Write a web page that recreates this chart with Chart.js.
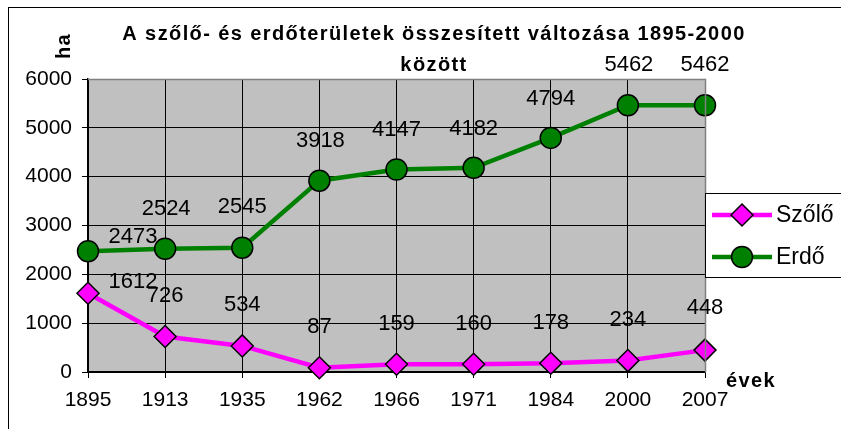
<!DOCTYPE html>
<html>
<head>
<meta charset="utf-8">
<script src="https://cdn.jsdelivr.net/npm/chart.js@4/dist/chart.umd.min.js"></script>
<style>
  body { margin: 0; background: #ffffff; }
</style>
</head>
<body>
<canvas id="chart" width="841" height="429"></canvas>
<script>
// data
const years = ["1895", "1913", "1935", "1962", "1966", "1971", "1984", "2000", "2007"];
const szoloValues = [1612, 726, 534, 87, 159, 160, 178, 234, 448];
const erdoValues = [2473, 2524, 2545, 3918, 4147, 4182, 4794, 5462, 5462];
const yTicks = [0, 1000, 2000, 3000, 4000, 5000, 6000];

// where each value label sits relative to its point (two of them were moved by hand in the original)
const szoloLabelDx = [45, 0, 0, 0, 0, 0, 0, 0, 0];
const szoloLabelDy = [-11, -41, -41, -41, -40, -40, -40, -41, -42];
const erdoLabelDx = [45, 1, 0, 1, 0, 0, 0, 1, 0];
const erdoLabelDy = [-14, -40, -41, -40, -40, -39, -39, -40, -40];

const FONT = "'Liberation Sans', Arial, sans-serif";

const decorations = {
    id: "decorations",
    beforeDraw(chart) {
        const ctx = chart.ctx;
        const a = chart.chartArea;
        ctx.save();
        ctx.fillStyle = "#c0c0c0";
        ctx.fillRect(a.left, a.top, a.right - a.left, a.bottom - a.top);
        ctx.restore();
    },
    afterDraw(chart) {
        const ctx = chart.ctx;
        const a = chart.chartArea;
        ctx.save();

        // plot frame top/right
        ctx.strokeStyle = "#808080";
        ctx.lineWidth = 1.5;
        ctx.beginPath();
        ctx.moveTo(a.left, a.top + 0.5);
        ctx.lineTo(a.right + 0.5, a.top + 0.5);
        ctx.lineTo(a.right + 0.5, a.bottom);
        ctx.stroke();

        // outer border
        ctx.lineWidth = 1;
        ctx.strokeStyle = "#000000";
        ctx.strokeRect(8.5, 7.5, 900, 500);

        // title
        ctx.fillStyle = "#000000";
        ctx.textAlign = "center";
        ctx.textBaseline = "middle";
        ctx.font = "bold 20px " + FONT;
        ctx.letterSpacing = "1.4px";
        ctx.fillText("A szőlő- és erdőterületek összesített változása 1895-2000", 434, 34);
        ctx.fillText("között", 434, 65);

        // axis titles
        ctx.fillText("évek", 751, 381);
        ctx.save();
        ctx.translate(64, 46);
        ctx.rotate(-Math.PI / 2);
        ctx.fillText("ha", 0, 0);
        ctx.restore();
        ctx.letterSpacing = "0px";

        // value labels
        ctx.font = "22px " + FONT;
        const offsets = [[szoloLabelDx, szoloLabelDy], [erdoLabelDx, erdoLabelDy]];
        chart.data.datasets.forEach((ds, d) => {
            const meta = chart.getDatasetMeta(d);
            meta.data.forEach((pt, i) => {
                ctx.fillText(String(ds.data[i]), pt.x + offsets[d][0][i], pt.y + offsets[d][1][i]);
            });
        });

        // legend box
        ctx.fillStyle = "#ffffff";
        ctx.fillRect(705.5, 193.5, 150, 84);
        ctx.strokeStyle = "#000000";
        ctx.strokeRect(705.5, 193.5, 150, 84);
        const rows = [215, 257];
        chart.data.datasets.forEach((ds, d) => {
            const y = rows[d];
            ctx.strokeStyle = ds.borderColor;
            ctx.lineWidth = ds.borderWidth;
            ctx.beginPath();
            ctx.moveTo(712, y);
            ctx.lineTo(772, y);
            ctx.stroke();
            ctx.fillStyle = ds.pointBackgroundColor;
            ctx.strokeStyle = ds.pointBorderColor;
            ctx.lineWidth = ds.pointBorderWidth;
            Chart.helpers.drawPoint(ctx, {
                pointStyle: ds.pointStyle,
                radius: ds.pointRadius,
                rotation: 0,
                borderWidth: ds.pointBorderWidth
            }, 742, y);
            ctx.fillStyle = "#000000";
            ctx.textAlign = "left";
            ctx.font = "23px " + FONT;
            ctx.fillText(ds.label, 776, y + 1);
        });

        ctx.restore();
    }
};

new Chart(document.getElementById("chart"), {
    type: "line",
    data: {
        labels: years,
        datasets: [
            {
                label: "Szőlő",
                data: szoloValues,
                borderColor: "#ff00ff",
                borderWidth: 4.5,
                pointStyle: "rectRot",
                pointRadius: 11,
                pointBackgroundColor: "#ff00ff",
                pointBorderColor: "#000000",
                pointBorderWidth: 1.5,
                tension: 0,
                clip: false
            },
            {
                label: "Erdő",
                data: erdoValues,
                borderColor: "#008000",
                borderWidth: 4.5,
                pointStyle: "circle",
                pointRadius: 10.5,
                pointBackgroundColor: "#008000",
                pointBorderColor: "#000000",
                pointBorderWidth: 1.5,
                tension: 0,
                clip: false
            }
        ]
    },
    options: {
        responsive: false,
        animation: false,
        layout: {
            padding: { top: 79, right: 136, bottom: 0, left: 10 }
        },
        scales: {
            x: {
                offset: false,
                grid: {
                    color: "#000000",
                    tickLength: 6
                },
                border: { color: "#000000", width: 1.5 },
                ticks: {
                    color: "#000000",
                    font: { family: FONT, size: 21 },
                    padding: 10,
                    maxRotation: 0
                },
                afterFit(scale) { scale.height = 57; }
            },
            y: {
                min: 0,
                max: 6000,
                afterBuildTicks(scale) {
                    scale.ticks = yTicks.map(v => ({ value: v }));
                },
                grid: {
                    color: "#000000",
                    tickLength: 6
                },
                border: { color: "#000000", width: 1.5 },
                ticks: {
                    color: "#000000",
                    font: { family: FONT, size: 21 },
                    padding: 10,
                    callback: v => String(v)
                },
                afterFit(scale) { scale.width = 78; }
            }
        },
        plugins: {
            legend: { display: false },
            title: { display: false },
            tooltip: { enabled: false }
        }
    },
    plugins: [decorations]
});
</script>
</body>
</html>
